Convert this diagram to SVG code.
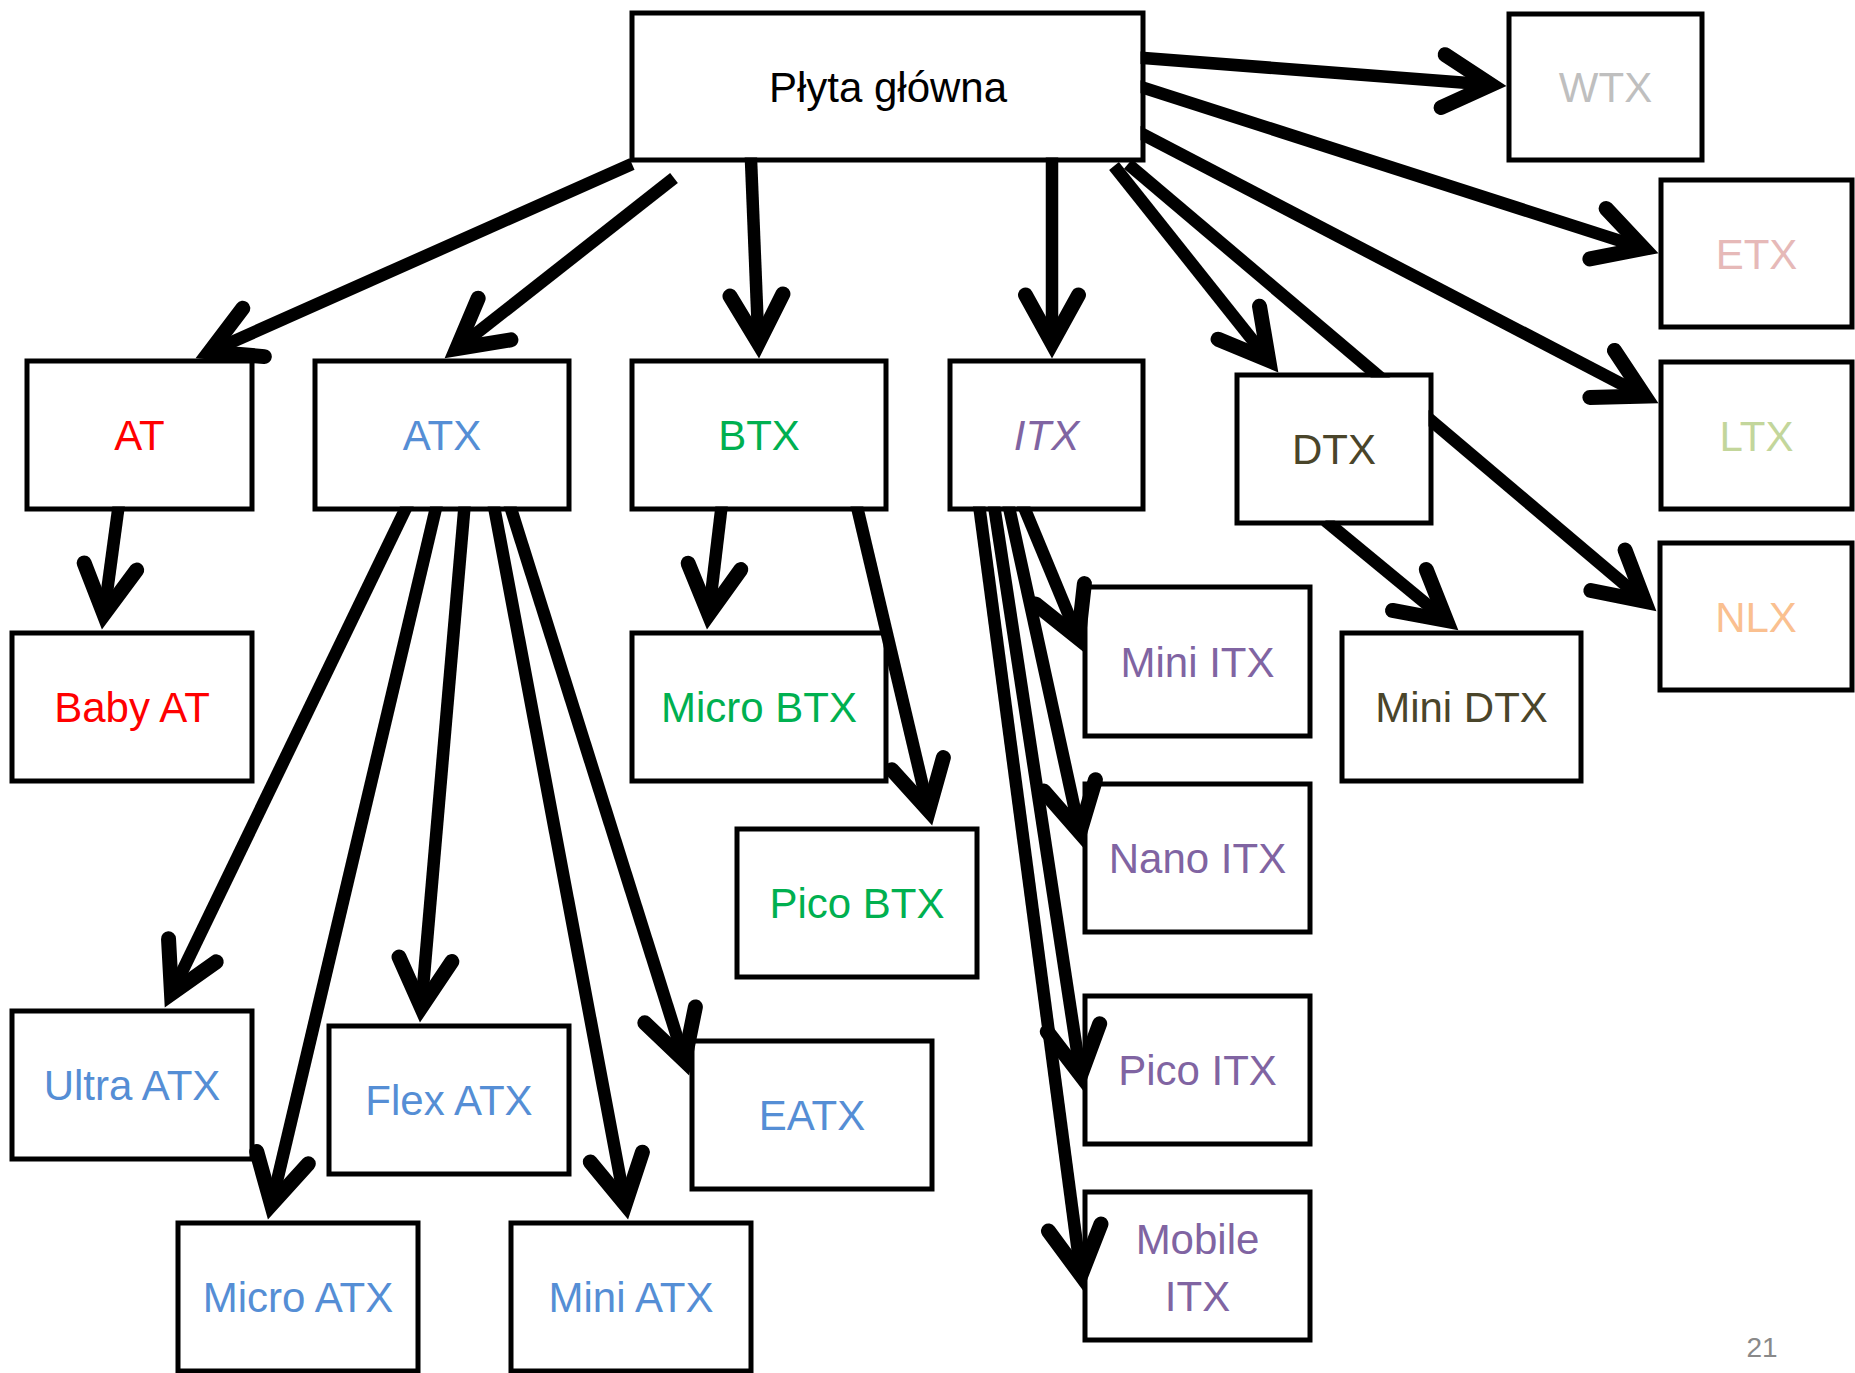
<svg xmlns="http://www.w3.org/2000/svg" width="1855" height="1373" viewBox="0 0 1855 1373">
<style>
.box{fill:#fff;stroke:#000;stroke-width:5}
.lbl{font-family:"Liberation Sans",Arial,sans-serif;font-size:42px;text-anchor:middle}
.c{fill:none;stroke:#000;stroke-width:12.5;marker-end:url(#ah)}
.k{fill:#000}.w{fill:#BFBFBF}.e{fill:#E6B9B8}.l{fill:#C3D69B}.n{fill:#FAC090}
.r{fill:#FF0000}.b{fill:#558ED5}.g{fill:#00B050}.p{fill:#8064A2}.d{fill:#4A452A}
</style>
<defs>
<marker id="ah" markerUnits="userSpaceOnUse" orient="auto" overflow="visible" markerWidth="10" markerHeight="10" refX="0" refY="0">
<path d="M-48,-26.5 L0,0 L-48,26.5" fill="none" stroke="#000" stroke-width="15" stroke-linecap="round" stroke-linejoin="miter"/>
</marker>
<mask id="src" maskUnits="userSpaceOnUse" x="0" y="0" width="1855" height="1373">
<rect x="0" y="0" width="1855" height="1373" fill="#fff"/>
<rect x="634.5" y="15.5" width="506" height="142" fill="#000"/>
<rect x="29.5" y="363.5" width="220" height="143" fill="#000"/>
<rect x="317.5" y="363.5" width="249" height="143" fill="#000"/>
<rect x="634.5" y="363.5" width="249" height="143" fill="#000"/>
<rect x="952.5" y="363.5" width="188" height="143" fill="#000"/>
<rect x="1239.5" y="377.5" width="189" height="143" fill="#000"/>
</mask>
</defs>

<g id="nodes">
<g id="plyta"><rect class="box" x="632" y="13" width="511" height="147"/><text class="lbl k" x="888" y="102">Płyta główna</text></g>
<g id="wtx"><rect class="box" x="1509" y="14" width="193" height="146"/><text class="lbl w" x="1605.5" y="102">WTX</text></g>
<g id="etx"><rect class="box" x="1661" y="180" width="191" height="147"/><text class="lbl e" x="1756.5" y="268.5">ETX</text></g>
<g id="ltx"><rect class="box" x="1661" y="362" width="191" height="147"/><text class="lbl l" x="1756.5" y="450.5">LTX</text></g>
<g id="nlx"><rect class="box" x="1660" y="543" width="192" height="147"/><text class="lbl n" x="1756" y="631.5">NLX</text></g>
<g id="at"><rect class="box" x="27" y="361" width="225" height="148"/><text class="lbl r" x="139.5" y="450">AT</text></g>
<g id="atx"><rect class="box" x="315" y="361" width="254" height="148"/><text class="lbl b" x="442" y="450">ATX</text></g>
<g id="btx"><rect class="box" x="632" y="361" width="254" height="148"/><text class="lbl g" x="759" y="450">BTX</text></g>
<g id="itx"><rect class="box" x="950" y="361" width="193" height="148"/><text class="lbl p" x="1046.5" y="450" font-style="italic">ITX</text></g>
<g id="dtx"><rect class="box" x="1237" y="375" width="194" height="148"/><text class="lbl d" x="1334" y="464">DTX</text></g>
<g id="babyat"><rect class="box" x="12" y="633" width="240" height="148"/><text class="lbl r" x="132" y="722">Baby AT</text></g>
<g id="microbtx"><rect class="box" x="632" y="633" width="254" height="148"/><text class="lbl g" x="759" y="722">Micro BTX</text></g>
<g id="picobtx"><rect class="box" x="737" y="829" width="240" height="148"/><text class="lbl g" x="857" y="918">Pico BTX</text></g>
<g id="miniitx"><rect class="box" x="1085" y="587" width="225" height="149"/><text class="lbl p" x="1197.5" y="676.5">Mini ITX</text></g>
<g id="minidtx"><rect class="box" x="1342" y="633" width="239" height="148"/><text class="lbl d" x="1461.5" y="722">Mini DTX</text></g>
<g id="nanoitx"><rect class="box" x="1085" y="784" width="225" height="148"/><text class="lbl p" x="1197.5" y="873">Nano ITX</text></g>
<g id="picoitx"><rect class="box" x="1085" y="996" width="225" height="148"/><text class="lbl p" x="1197.5" y="1085">Pico ITX</text></g>
<g id="mobileitx"><rect class="box" x="1085" y="1192" width="225" height="148"/><text class="lbl p" x="1197.5" y="1254">Mobile</text><text class="lbl p" x="1197.5" y="1311">ITX</text></g>
<g id="ultraatx"><rect class="box" x="12" y="1011" width="240" height="148"/><text class="lbl b" x="132" y="1100">Ultra ATX</text></g>
<g id="flexatx"><rect class="box" x="329" y="1026" width="240" height="148"/><text class="lbl b" x="449" y="1115">Flex ATX</text></g>
<g id="eatx"><rect class="box" x="692" y="1041" width="240" height="148"/><text class="lbl b" x="812" y="1130">EATX</text></g>
<g id="microatx"><rect class="box" x="178" y="1223" width="240" height="148"/><text class="lbl b" x="298" y="1312">Micro ATX</text></g>
<g id="miniatx"><rect class="box" x="511" y="1223" width="240" height="148"/><text class="lbl b" x="631" y="1312">Mini ATX</text></g>
</g>

<g id="connectors" mask="url(#src)">
<path class="c" d="M632,164 L209.7,351.9"/>
<path class="c" d="M674,178 L456.8,348.7"/>
<path class="c" d="M750.6,150 L758.4,343"/>
<path class="c" d="M1052,150 L1052,343"/>
<path class="c" d="M1114,166 L1268.7,360.3"/>
<path class="c" d="M1128,164 L1644.6,601.3"/>
<path class="c" d="M1134,57.2 L1491,84.8"/>
<path class="c" d="M1134.5,84.9 L1643.7,248.4"/>
<path class="c" d="M1135.1,130.4 L1644.7,396.1"/>
<path class="c" d="M119.3,501 L104,614.1"/>
<path class="c" d="M408.4,503 L171.5,993.5"/>
<path class="c" d="M437.3,502.3 L271.5,1204.4"/>
<path class="c" d="M464.9,502 L421.3,1007.1"/>
<path class="c" d="M493.2,502.2 L625.2,1204.3"/>
<path class="c" d="M509,502.5 L684.5,1060.7"/>
<path class="c" d="M722.2,501 L708.8,614.1"/>
<path class="c" d="M855.7,501.3 L928.6,810.4"/>
<path class="c" d="M1022.2,502.8 L1078.3,638.1"/>
<path class="c" d="M1007.9,502.2 L1079.8,832.3"/>
<path class="c" d="M993.5,502.1 L1080.7,1075.2"/>
<path class="c" d="M978.7,502.1 L1081,1275.1"/>
<path class="c" d="M1325.3,520.6 L1446.4,620.5"/>
</g>

<text x="1762" y="1357" font-family="'Liberation Sans',Arial,sans-serif" font-size="28" fill="#898989" text-anchor="middle">21</text>
</svg>
